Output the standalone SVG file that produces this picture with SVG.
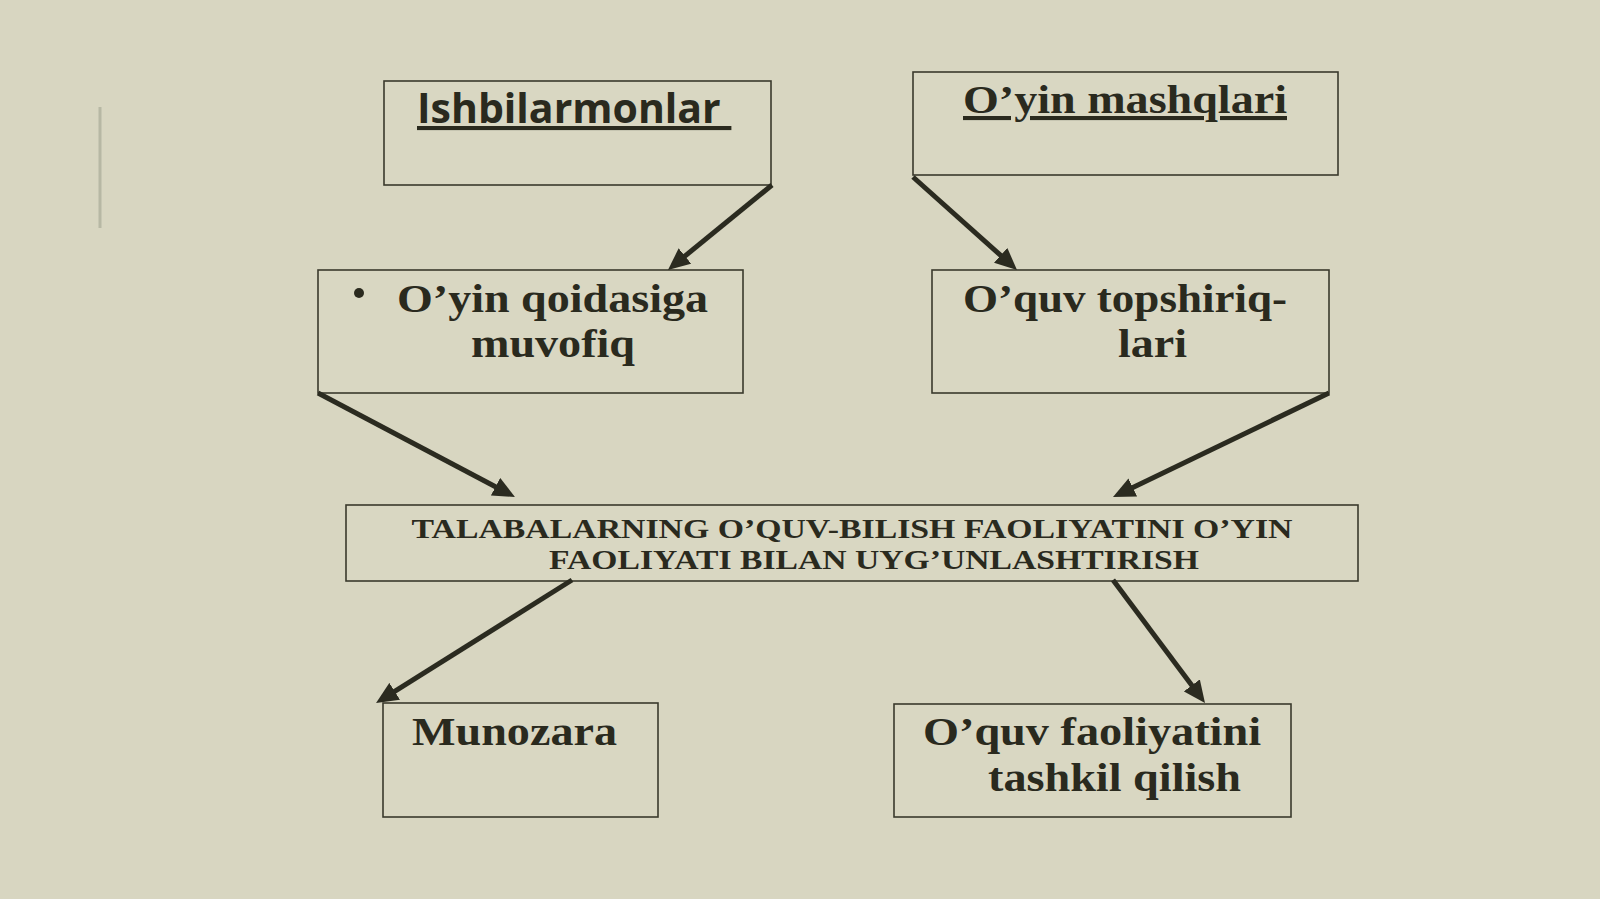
<svg xmlns="http://www.w3.org/2000/svg" width="1600" height="899" viewBox="0 0 1600 899">
<defs>
<style>
.box{fill:#d9d7c2;stroke:#3a3a2c;stroke-width:1.6}
.t{font-family:"Liberation Serif","Times New Roman",serif;font-weight:bold;fill:#2a2a1e}
.s{font-family:"Open Sans","Noto Sans",sans-serif;font-weight:bold;fill:#2a2a1e}
.big{font-size:39px}
.one{font-size:41px}
.sbig{font-size:41px}
.mid{font-size:28px}
.u{text-decoration:underline}
.c{text-anchor:middle}
.arr{stroke:#2b2b20;stroke-width:5;fill:none;marker-end:url(#ah)}
</style>
<marker id="ah" markerWidth="22" markerHeight="20" refX="8" refY="10" orient="auto" markerUnits="userSpaceOnUse">
<path d="M0,0 L22,10 L0,20 Z" fill="#2b2b20"/>
</marker>
</defs>
<rect x="0" y="0" width="1600" height="899" fill="#d8d6c1"/>
<line x1="100" y1="107" x2="100" y2="228" stroke="#b7b8a4" stroke-width="3"/>

<g id="n-ishbilarmonlar">
<rect class="box" x="384" y="81" width="387" height="104"/>
<text class="s sbig u" x="417" y="123" xml:space="preserve">Ishbilarmonlar </text>
</g>
<g id="n-oyin-mashqlari">
<rect class="box" x="913" y="72" width="425" height="103"/>
<text class="t one u c" x="1125" y="113" textLength="324" lengthAdjust="spacingAndGlyphs">O’yin mashqlari</text>
</g>
<g id="n-qoidasiga">
<rect class="box" x="318" y="270" width="425" height="123"/>
<circle cx="359" cy="293" r="5" fill="#2a2a1e"/>
<text class="t big c" x="552.5" y="312" textLength="311" lengthAdjust="spacingAndGlyphs">O’yin qoidasiga</text>
<text class="t big c" x="553" y="357" textLength="164" lengthAdjust="spacingAndGlyphs">muvofiq</text>
</g>
<g id="n-topshiriqlari">
<rect class="box" x="932" y="270" width="397" height="123"/>
<text class="t big c" x="1125" y="312" textLength="324" lengthAdjust="spacingAndGlyphs">O’quv topshiriq-</text>
<text class="t big c" x="1152.5" y="357" textLength="69" lengthAdjust="spacingAndGlyphs">lari</text>
</g>
<g id="n-central">
<rect class="box" x="346" y="505" width="1012" height="76"/>
<text class="t mid c" x="852" y="538" textLength="881" lengthAdjust="spacingAndGlyphs">TALABALARNING O’QUV-BILISH FAOLIYATINI O’YIN</text>
<text class="t mid c" x="874" y="569" textLength="650" lengthAdjust="spacingAndGlyphs">FAOLIYATI BILAN UYG’UNLASHTIRISH</text>
</g>
<g id="n-munozara">
<rect class="box" x="383" y="703" width="275" height="114"/>
<text class="t one c" x="514.5" y="745" textLength="205" lengthAdjust="spacingAndGlyphs">Munozara</text>
</g>
<g id="n-faoliyat">
<rect class="box" x="894" y="704" width="397" height="113"/>
<text class="t big c" x="1092" y="745" textLength="338" lengthAdjust="spacingAndGlyphs">O’quv faoliyatini</text>
<text class="t big c" x="1114.5" y="791" textLength="253" lengthAdjust="spacingAndGlyphs">tashkil qilish</text>
</g>

<g id="connectors">
<line class="arr" x1="772" y1="185" x2="678.8" y2="261.1"/>
<line class="arr" x1="913" y1="177" x2="1006.6" y2="260.7"/>
<line class="arr" x1="318" y1="393" x2="502.6" y2="490.5"/>
<line class="arr" x1="1329" y1="393" x2="1125.6" y2="490.9"/>
<line class="arr" x1="572" y1="580" x2="387.9" y2="695.6"/>
<line class="arr" x1="1113" y1="580" x2="1196.6" y2="691.8"/>
</g>
</svg>
